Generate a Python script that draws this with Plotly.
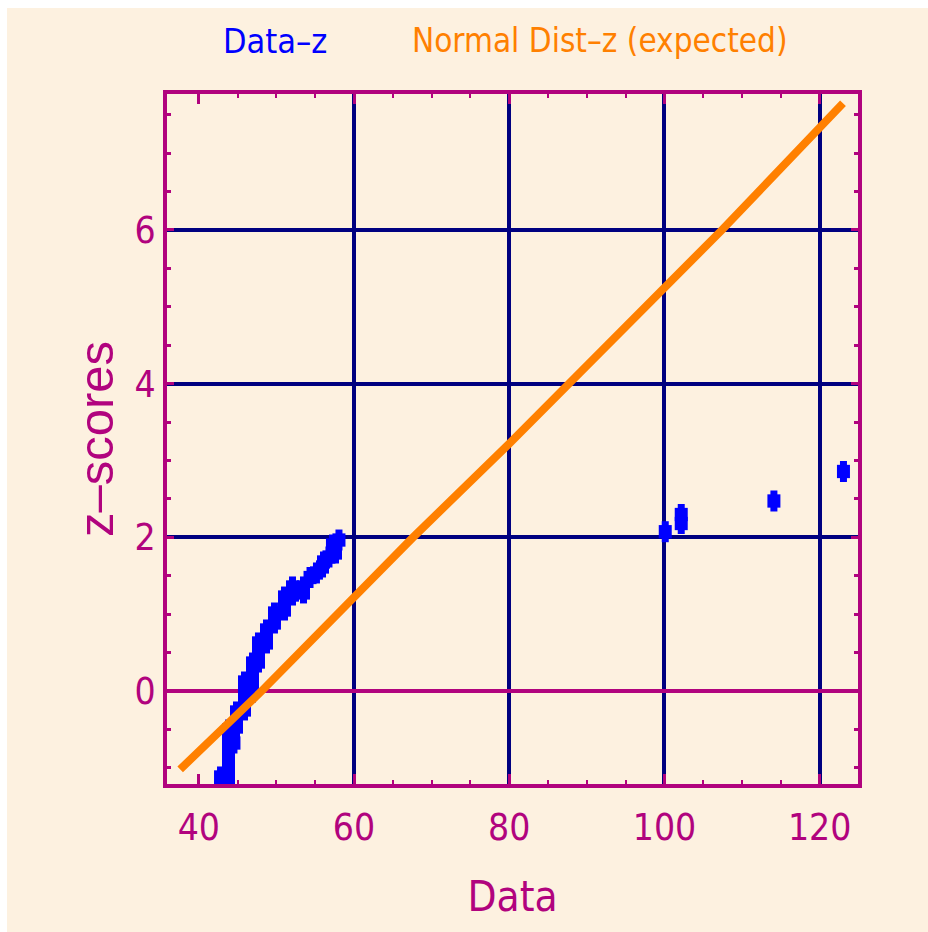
import plotly.graph_objects as go

# ---- data ----
data_x = [42.80, 42.80, 42.80,
          43.83, 43.83, 43.83, 43.83, 43.83, 43.83, 43.83, 43.83, 43.83,
          44.53,
          44.86, 44.86, 44.86,
          45.89, 45.89, 45.89, 45.89, 45.89,
          46.92, 46.92, 46.92, 46.92, 46.92,
          47.69, 47.69, 47.69, 47.69,
          48.72, 48.72, 48.72,
          49.75, 49.75, 49.75,
          51.04, 51.04, 51.04,
          52.07, 52.07,
          53.49, 53.49,
          54.33,
          55.16, 55.94,
          56.07, 56.77, 57.61,
          57.22, 58.06,
          100.10, 102.16, 102.16, 114.10, 123.06]
data_z = [-1.119, -1.250, -1.380,
          -0.508, -0.612, -0.716, -0.820, -0.924, -1.028, -1.132, -1.236, -1.341,
          -0.677,
          -0.273, -0.377, -0.469,
          0.117, 0.013, -0.091, -0.195, -0.247,
          0.364, 0.260, 0.156, 0.052, -0.013,
          0.625, 0.521, 0.430, 0.377,
          0.794, 0.703, 0.625,
          1.015, 0.950, 0.885,
          1.223, 1.132, 1.054,
          1.354, 1.249,
          1.276, 1.354,
          1.477,
          1.536, 1.614,
          1.679, 1.744, 1.796,
          1.900, 1.965,
          2.073, 2.297, 2.180, 2.473, 2.857]

normal_x = [37.6, 40.15, 48.1, 60.0, 67.6, 80.0, 87.6, 100.0, 102.2, 107.4, 123.0]
normal_z = [-1.02, -0.77, 0.0, 1.22, 2.0, 3.22, 4.0, 5.26, 5.5, 6.0, 7.65]

x_grid_vals = [60, 80, 100, 120]

# ---- styling ----
BG = "#FDF1E0"
MAG = "#B1037E"
NAVY = "#000080"
BLUE = "#0000FF"
ORANGE = "#FF8000"
NARROW = "Liberation Sans Narrow, Arial Narrow, DejaVu Sans Condensed, Liberation Sans, sans-serif"
XR = [35.903, 124.934]
YR = [-1.2105, 7.770]

fig = go.Figure()
# blue markers: a tall-oval look built from two stacked vertical bars per point
fig.add_trace(go.Scatter(x=data_x, y=data_z, mode="markers", name="Data–z",
                         marker=dict(symbol="line-ns", color=BLUE, size=15,
                                     line=dict(width=7, color=BLUE)),
                         xaxis="x", yaxis="y", showlegend=False, hoverinfo="skip"))
fig.add_trace(go.Scatter(x=data_x, y=data_z, mode="markers", name="Data–z",
                         marker=dict(symbol="line-ns", color=BLUE, size=9.5,
                                     line=dict(width=13, color=BLUE)),
                         xaxis="x", yaxis="y", showlegend=False))
fig.add_trace(go.Scatter(x=normal_x, y=normal_z, mode="lines", name="Normal Dist–z (expected)",
                         line=dict(color=ORANGE, width=8),
                         xaxis="x2", yaxis="y", showlegend=False))

W, H = 928, 932
L, R, T, B = 167, 70, 94, 148
pw, ph = W - L - R, H - T - B

fig.update_layout(
    width=W, height=H,
    margin=dict(l=L, r=R, t=T, b=B, pad=0),
    paper_bgcolor=BG, plot_bgcolor=BG,
    showlegend=False,
    font=dict(family=NARROW, color=MAG, size=36),
    xaxis=dict(range=XR, dtick=20, tick0=0, showgrid=False, zeroline=False,
               showline=True, linecolor=MAG, linewidth=4, mirror="ticks",
               ticks="inside", ticklen=10, tickwidth=3, tickcolor=MAG,
               ticklabelstandoff=8,
               tickfont=dict(family=NARROW, size=37, color=MAG),
               minor=dict(dtick=5, ticks="inside", ticklen=4, tickwidth=2,
                          tickcolor=MAG, showgrid=False),
               title=dict(text="Data", font=dict(family=NARROW, size=42, color=MAG),
                          standoff=34)),
    xaxis2=dict(range=XR, overlaying="x", anchor="y", side="bottom",
                tickvals=x_grid_vals, showgrid=True, gridcolor=NAVY, gridwidth=4,
                showticklabels=False, ticks="", showline=False, zeroline=False),
    yaxis=dict(range=YR, dtick=2, tick0=0, showgrid=True, gridcolor=NAVY, gridwidth=4,
               zeroline=True, zerolinecolor=MAG, zerolinewidth=4,
               showline=True, linecolor=MAG, linewidth=4, mirror="ticks",
               ticks="inside", ticklen=7, tickwidth=3, tickcolor=MAG,
               tickfont=dict(family=NARROW, size=37, color=MAG),
               minor=dict(dtick=0.5, ticks="inside", ticklen=4, tickwidth=3,
                          tickcolor=MAG, showgrid=False),
               title=dict(text="z–scores", font=dict(family="Liberation Sans, Arial, sans-serif",
                                                     size=49, color=MAG),
                          standoff=6)),
)

# white strips along the top and left edges of the picture
fig.add_shape(type="rect", xref="paper", yref="paper",
              x0=-L / pw, x1=1 + R / pw, y0=1 + (T - 8) / ph, y1=1 + T / ph + 0.01,
              fillcolor="white", line=dict(width=0), layer="above")
fig.add_shape(type="rect", xref="paper", yref="paper",
              x0=-L / pw - 0.01, x1=-(L - 7) / pw, y0=-B / ph - 0.01, y1=1 + T / ph + 0.01,
              fillcolor="white", line=dict(width=0), layer="above")

fig.add_annotation(text="Data–z", xref="paper", yref="paper",
                   x=(275 - L) / pw, y=1 + (T - 41) / ph,
                   xanchor="center", yanchor="middle", showarrow=False,
                   font=dict(family=NARROW, size=34, color=BLUE))
fig.add_annotation(text="Normal Dist–z (expected)", xref="paper", yref="paper",
                   x=(599 - L) / pw, y=1 + (T - 41) / ph,
                   xanchor="center", yanchor="middle", showarrow=False,
                   font=dict(family=NARROW, size=33, color=ORANGE))

fig.write_html("out.html",
               config={"displayModeBar": False, "staticPlot": True},
               post_script="document.body.style.margin='0';"
                           "document.body.style.overflow='hidden';"
                           "document.documentElement.style.background='" + BG + "';")
